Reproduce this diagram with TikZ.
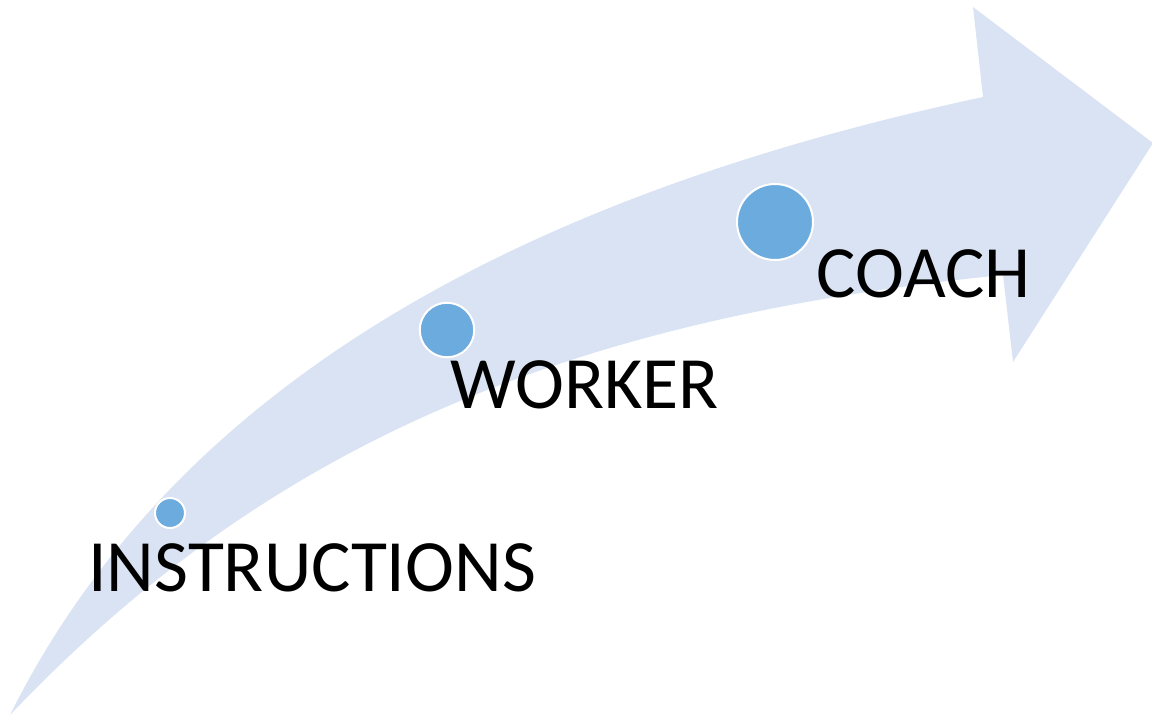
\documentclass[tikz,border=0pt]{standalone}
\usepackage{fontspec}
\setmainfont{Carlito}
\definecolor{bandfill}{HTML}{DAE3F3}
\definecolor{dotfill}{HTML}{6CABDD}
\begin{document}
\begin{tikzpicture}[x=0.02cm, y=-0.02cm,
  dotstyle/.style={circle, fill=dotfill, draw=white, line width=0.04cm, inner sep=0pt},
  labelstyle/.style={anchor=base west, inner sep=0pt, text=black,
    font=\fontsize{42}{50}\selectfont}]
\useasboundingbox (0,0) rectangle (1152,717);
% curved upward arrow: outer edge, head, inner edge back to the tail
\fill[bandfill] (10,715) .. controls (162,410) and (478,205) .. (983,97)
  -- (973,7) -- (1153,143) -- (1013,362) -- (1003,275)
  .. controls (553,320) and (260,452) .. (10,715) -- cycle;
% stage markers
\node[dotstyle, minimum size=0.60cm] (dot1) at (170,513) {};
\node[dotstyle, minimum size=1.09cm] (dot2) at (447,330) {};
\node[dotstyle, minimum size=1.52cm] (dot3) at (775,222) {};
% stage labels
\node[labelstyle] (lab1) at (88,591) {INSTRUCTIONS};
\node[labelstyle] (lab2) at (450,408) {WORKER};
\node[labelstyle] (lab3) at (816,297) {COACH};
\end{tikzpicture}
\end{document}
